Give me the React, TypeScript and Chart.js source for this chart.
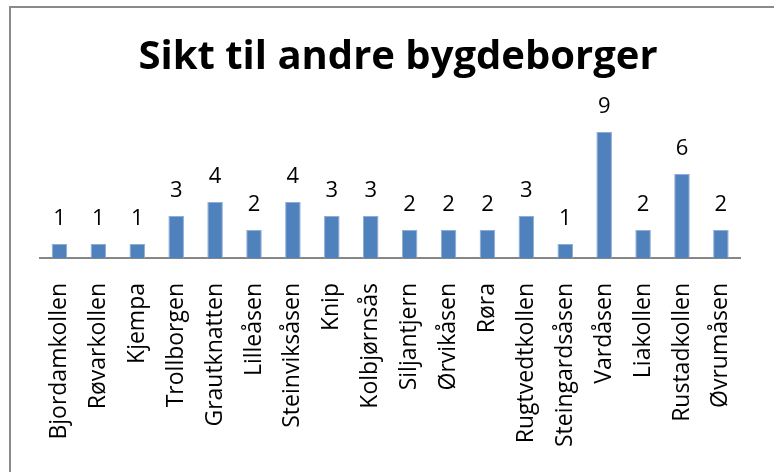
import React, { useEffect, useRef } from "react";
import { Chart, registerables } from "chart.js";

Chart.register(...registerables);

const TITLE = "Sikt til andre bygdeborger";
const CATEGORIES = [
  "Bjordamkollen",
  "Røvarkollen",
  "Kjempa",
  "Trollborgen",
  "Grautknatten",
  "Lilleåsen",
  "Steinviksåsen",
  "Knip",
  "Kolbjørnsås",
  "Siljantjern",
  "Ørvikåsen",
  "Røra",
  "Rugtvedtkollen",
  "Steingardsåsen",
  "Vardåsen",
  "Liakollen",
  "Rustadkollen",
  "Øvrumåsen",
];
const VALUES = [1, 1, 1, 3, 4, 2, 4, 3, 3, 2, 2, 2, 3, 1, 9, 2, 6, 2];
const Y_MIN = 0;
const Y_MAX = 10;

const FONT = "'Open Sans', 'Noto Sans', sans-serif";

const dataLabels = {
  id: "dataLabels",
  afterDatasetsDraw(chart: any) {
    const ctx = chart.ctx;
    const meta = chart.getDatasetMeta(0);
    const data = chart.data.datasets[0].data;
    ctx.save();
    ctx.fillStyle = "#000000";
    ctx.font = `22px ${FONT}`;
    ctx.textAlign = "center";
    ctx.textBaseline = "alphabetic";
    meta.data.forEach((bar: any, i: number) => {
      ctx.fillText(String(data[i]), bar.x, bar.y - 19);
    });
    ctx.restore();
  },
};

export default function App() {
  const ref = useRef<HTMLCanvasElement | null>(null);

  useEffect(() => {
    if (!ref.current) return;
    const chart = new Chart(ref.current, {
      type: "bar",
      data: {
        labels: CATEGORIES,
        datasets: [
          {
            data: VALUES,
            backgroundColor: "#4F81BD",
            borderColor: "#8FADD6",
            borderWidth: 1,
            categoryPercentage: 1,
            barPercentage: 0.4,
          },
        ],
      },
      options: {
        animation: false,
        responsive: false,
        layout: { padding: { left: 40, right: 18, top: 0, bottom: 0 } },
        plugins: {
          legend: { display: false },
          tooltip: { enabled: false },
          title: {
            display: true,
            text: TITLE,
            color: "#000000",
            font: { family: FONT, size: 40, weight: "bold", lineHeight: 1.2 },
            padding: { top: 34, bottom: 36 },
          },
        },
        scales: {
          x: {
            grid: { display: false, drawTicks: false },
            border: { display: true, color: "#868686", width: 2 },
            ticks: {
              color: "#000000",
              font: { family: FONT, size: 23 },
              minRotation: 90,
              maxRotation: 90,
              autoSkip: false,
              padding: 25,
            },
            afterFit: (s: any) => {
              s.height = 214;
            },
          },
          y: {
            display: false,
            min: Y_MIN,
            max: Y_MAX,
          },
        },
      },
      plugins: [dataLabels],
    });
    return () => chart.destroy();
  }, []);

  return (
    <div
      style={{
        position: "fixed",
        left: 0,
        top: 0,
        width: 774,
        height: 472,
        overflow: "hidden",
        background: "#ffffff",
      }}
    >
      <div
        style={{
          position: "absolute",
          left: 9,
          top: 6,
          width: 800,
          height: 500,
          border: "2px solid #8a8a8a",
          boxSizing: "border-box",
        }}
      />
      <canvas
        ref={ref}
        width={774}
        height={472}
        style={{ position: "absolute", left: 0, top: 0, width: 774, height: 472 }}
      />
    </div>
  );
}
